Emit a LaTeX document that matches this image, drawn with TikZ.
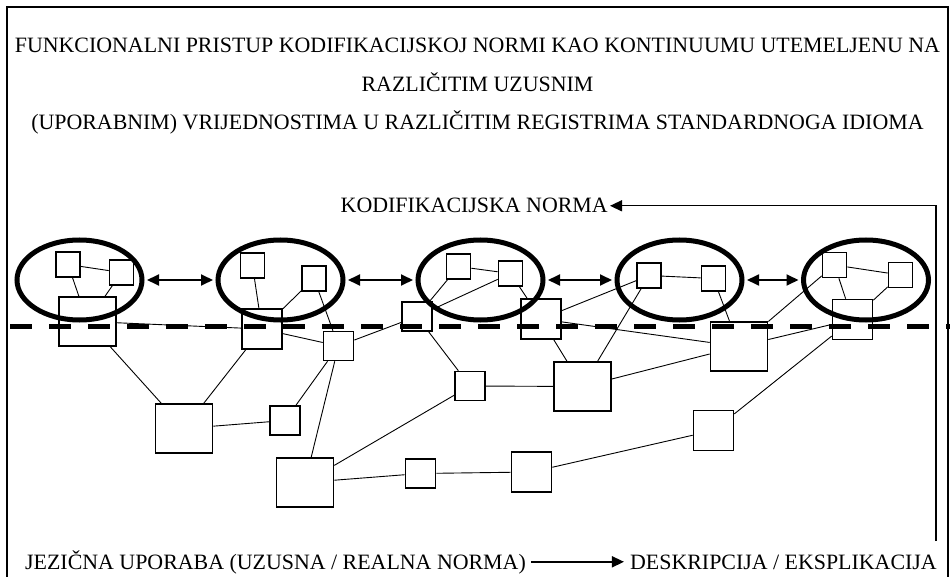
\documentclass[tikz,border=0pt]{standalone}
\usepackage{fontspec}
\setmainfont{Liberation Serif}
\usepackage{tikz}
\usetikzlibrary{positioning}
\usetikzlibrary{arrows.meta,shapes.geometric}
\tikzset{line/.style={draw, line width=0.9pt}}
\tikzset{arrow/.style={draw, line width=1.6pt, -{Triangle[length=12pt,width=11pt]}}}
\tikzset{dblarrow/.style={draw, line width=1.8pt, {Triangle[length=12pt,width=11pt]}-{Triangle[length=12pt,width=11pt]}, shorten <=2.5pt, shorten >=2.5pt}}

\begin{document}
\begin{tikzpicture}[x=1pt,y=-1pt]
\tikzstyle{block} = [rectangle, draw, line width=1.6pt, inner sep=0pt]
\tikzstyle{sblock} = [block, minimum width=24pt, minimum height=25pt]
\tikzstyle{mblock} = [block, minimum width=30pt, minimum height=29pt]
\tikzstyle{qblock} = [block, minimum width=40pt, minimum height=40pt]
\tikzstyle{lblock} = [block, minimum width=57pt, minimum height=49pt]
\tikzstyle{oval} = [ellipse, draw, line width=5pt, minimum width=125pt, minimum height=80pt, inner sep=0pt]
\tikzstyle{txt} = [inner sep=0pt, font=\fontsize{21.9}{26}\selectfont]

\useasboundingbox (0,0) rectangle (950,577);
% frame
    \draw [line width=1.6pt] (7,577) -- (7,7) -- (948,7) -- (948,577);

% title
    \node [txt, anchor=base] (title1) at (477.5,53) {FUNKCIONALNI PRISTUP KODIFIKACIJSKOJ NORMI KAO KONTINUUMU UTEMELJENU NA};
    \node [txt, anchor=base] (title2) at (477.5,92) {RAZLIČITIM UZUSNIM};
    \node [txt, anchor=base] (title3) at (477.5,130) {(UPORABNIM) VRIJEDNOSTIMA U RAZLIČITIM REGISTRIMA STANDARDNOGA IDIOMA};
    \node [txt, text height=14.4pt, text depth=0pt, anchor=base east] (kodnorm) at (608,213) {KODIFIKACIJSKA NORMA};
    \node [txt, text height=14.4pt, text depth=0pt, anchor=base west] (uporaba) at (25,569) {JEZIČNA UPORABA (UZUSNA / REALNA NORMA)};
    \node [txt, text height=14.4pt, text depth=0pt, anchor=base east] (deskr) at (937,569) {DESKRIPCIJA / EKSPLIKACIJA};
    \coordinate (foot) at (936,541);

% ovals
    \node [oval] (oval1) at (79.5,280) {};
    \node [oval] (oval2) at (280.5,280) {};
    \node [oval] (oval3) at (480.5,280) {};
    \node [oval] (oval4) at (679.5,280) {};
    \node [oval] (oval5) at (866,280) {};

% norm line
    \draw [line width=5pt, dash pattern=on 22pt off 17pt] (10,326) -- (950,326);

% blocks
    \node [sblock] (in1a) at (68,264.5) {};
    \node [sblock] (in1b) at (121.5,272.5) {};
    \node [sblock] (in2a) at (252.5,265.5) {};
    \node [sblock] (in2b) at (314,278.5) {};
    \node [sblock] (in3a) at (458.5,266.5) {};
    \node [sblock] (in3b) at (510.5,273.5) {};
    \node [sblock] (in4a) at (649,275.5) {};
    \node [sblock] (in4b) at (713.5,278.5) {};
    \node [sblock] (in5a) at (834.5,265) {};
    \node [sblock] (in5b) at (900.5,275) {};
    \node [lblock] (q1) at (87.5,321.5) {};
    \node [qblock] (q2) at (262,329) {};
    \node [mblock] (q3) at (338.5,346) {};
    \node [lblock] (q4) at (184,428.5) {};
    \node [mblock] (q5) at (285,420.5) {};
    \node [lblock] (q6) at (305,482.5) {};
    \node [mblock] (q7) at (417,316.5) {};
    \node [qblock] (q8) at (541,319) {};
    \node [mblock] (q9) at (470,386) {};
    \node [lblock] (q10) at (582.5,386.5) {};
    \node [lblock] (q11) at (739,346.5) {};
    \node [qblock] (q12) at (852.5,319.5) {};
    \node [qblock] (q13) at (713.5,430.5) {};
    \node [qblock] (q14) at (531.5,472) {};
    \node [mblock] (q15) at (420.5,473.5) {};

% links
    \path [line] (in1a) -- (in1b);
    \path [line] (in1a) -- (q1);
    \path [line] (in1b) -- (q1);
    \path [line] (q1) -- (q2);
    \path [line] (q1) -- (q4);
    \path [line] (q4) -- (q2);
    \path [line] (q4) -- (q5);
    \path [line] (q5) -- (q3);
    \path [line] (in2a) -- (q2);
    \path [line] (in2b) -- (q2);
    \path [line] (q2) -- (q3);
    \path [line] (in2b) -- (q3);
    \path [line] (q3) -- (q7);
    \path [line] (q3) -- (q6);
    \path [line] (q7) -- (in3a);
    \path [line] (q7) -- (in3b);
    \path [line] (in3a) -- (in3b);
    \path [line] (in3b) -- (q8);
    \path [line] (q7) -- (q9);
    \path [line] (q9) -- (q10);
    \path [line] (q9) -- (q6);
    \path [line] (q8) -- (q10);
    \path [line] (q10) -- (in4a);
    \path [line] (q8) -- (in4a);
    \path [line] (q8) -- (q11);
    \path [line] (q10) -- (q11);
    \path [line] (in4a) -- (in4b);
    \path [line] (in4b) -- (q11);
    \path [line] (q11) -- (q12);
    \path [line] (q11) -- (in5a);
    \path [line] (in5a) -- (in5b);
    \path [line] (in5a) -- (q12);
    \path [line] (in5b) -- (q12);
    \path [line] (q12) -- (q13);
    \path [line] (q13) -- (q14);
    \path [line] (q14) -- (q15);
    \path [line] (q15) -- (q6);

% arrows
    \path [dblarrow] (oval1.east) -- (oval2.west);
    \path [dblarrow] (oval2.east) -- (oval3.west);
    \path [dblarrow] (oval3.east) -- (oval4.west);
    \path [dblarrow] (oval4.east) -- (oval5.west);
    \path [arrow, shorten <=5pt, shorten >=6pt] (uporaba.east) -- (deskr.west);
    \path [arrow, line width=1.4pt, shorten >=2pt] (foot) |- (kodnorm.east);
\end{tikzpicture}
\end{document}
